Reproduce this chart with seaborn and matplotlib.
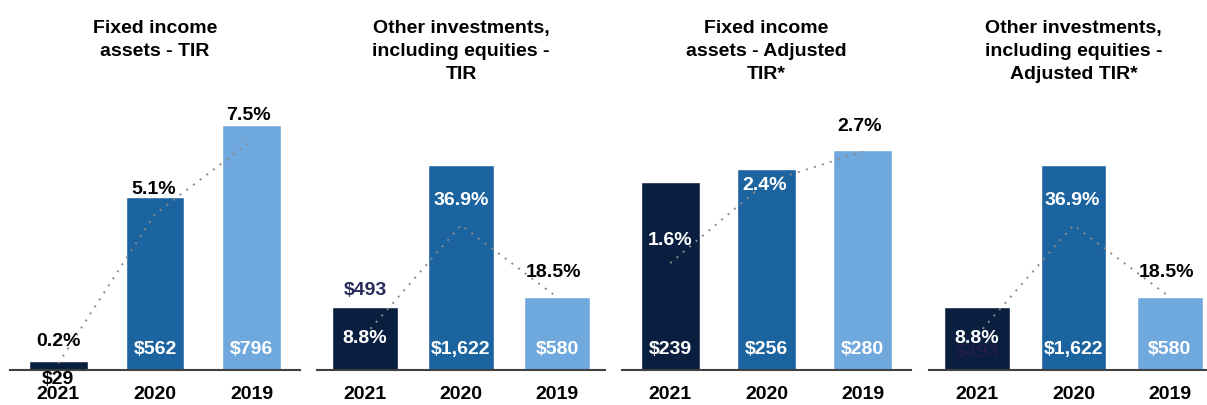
import pandas as pd
import seaborn as sns
import matplotlib.pyplot as plt

# data
years = ["2021", "2020", "2019"]

fixed_tir_amt = [29, 562, 796]
fixed_tir_pct = [0.2, 5.1, 7.5]
other_tir_amt = [493, 1622, 580]
other_tir_pct = [8.8, 36.9, 18.5]
fixed_adj_amt = [239, 256, 280]
fixed_adj_pct = [1.6, 2.4, 2.7]
other_adj_amt = [493, 1622, 580]
other_adj_pct = [8.8, 36.9, 18.5]

titles = ["Fixed income\nassets - TIR",
          "Other investments,\nincluding equities -\nTIR",
          "Fixed income\nassets - Adjusted\nTIR*",
          "Other investments,\nincluding equities -\nAdjusted TIR*"]

bar_colors = ["#0a1e40", "#1b64a0", "#6fa8dc"]
NAVY_TXT = "#2a2a5c"

sns.set_style("white")
plt.rcParams["font.family"] = ["Liberation Sans", "DejaVu Sans"]
plt.rcParams["font.weight"] = "bold"
plt.rcParams["text.color"] = "black"
plt.rcParams["xtick.color"] = "black"

fig = plt.figure(figsize=(12.07, 4.05), dpi=100)

W, H = 1207, 405
base_px, top_px = 369.5, 95
# (left px, right px, bar width, primary ylim top, secondary ylim)
layout = [
    (10, 300, 0.61, 892, (0, 9.0)),
    (317, 605, 0.68, 2182, (0, 70.2)),
    (622, 911, 0.61, 350, (0.55, 3.26)),
    (929, 1218, 0.68, 2182, (0, 70.2)),
]

panels = [
    (fixed_tir_amt, fixed_tir_pct),
    (other_tir_amt, other_tir_pct),
    (fixed_adj_amt, fixed_adj_pct),
    (other_adj_amt, other_adj_pct),
]

# label tweaks: (dx px, dy px, colour) per point
pct_style = [
    [(0, 22, "black"), (-1, 24, "black"), (-3, 25, "black")],
    [(0, -3, "white"), (0, 25, "white"), (-3, 25, "black")],
    [(0, 23, "white"), (-2, -3, "white"), (-3, 25, "black")],
    [(0, -3, "white"), (-1, 25, "white"), (-3, 25, "black")],
]
# $29 sits on the year label and the second $493 hides in its bar, as in the original
amt_style = [
    [("base", -10, "black"), ("base", 20, "white"), ("base", 20, "white")],
    [("top", 17, NAVY_TXT), ("base", 20, "white"), ("base", 20, "white")],
    [("base", 20, "white"), ("base", 20, "white"), ("base", 20, "white")],
    [("base", 17, "#1e1c48"), ("base", 20, "white"), ("base", 20, "white")],
]

for k, ((amt, pct), (lp, rp, bw, ytop, y2lim)) in enumerate(zip(panels, layout)):
    ax = fig.add_axes([lp / W, (H - base_px) / H, (rp - lp) / W, (base_px - top_px) / H])
    df = pd.DataFrame({"year": years, "amount": amt, "pct": pct})
    sns.barplot(data=df, x="year", y="amount", hue="year", palette=bar_colors,
                width=bw, legend=False, ax=ax, saturation=1)
    ax.set_ylim(0, ytop)

    ax2 = ax.twinx()
    sns.lineplot(x=[0, 1, 2], y=pct, ax=ax2, color="#8a8a8a", lw=1.4,
                 linestyle=(0, (1, 3.3)))
    ax2.set_ylim(*y2lim)
    ax.set_xlim(-0.5, 2.5)

    for a in (ax, ax2):
        a.set_yticks([])
        a.set_ylabel("")
        a.set_xlabel("")
        for s in a.spines.values():
            s.set_visible(False)
    ax.spines["bottom"].set_visible(True)
    ax.spines["bottom"].set_color("#404040")
    ax.spines["bottom"].set_linewidth(1.5)
    ax.tick_params(axis="x", length=0, pad=12, labelsize=14, labelcolor="black")
    for t in ax.get_xticklabels():
        t.set_fontweight("bold")

    for i in range(3):
        dx, dy, c = pct_style[k][i]
        ax2.annotate(f"{pct[i]}%", (i, pct[i]), xytext=(dx, dy),
                     textcoords="offset pixels", ha="center", va="center",
                     fontsize=14, fontweight="bold", color=c)
        where, dy, c = amt_style[k][i]
        yv = amt[i] if where == "top" else 0
        ax.annotate(f"${amt[i]:,}", (i, yv), xytext=(0, dy),
                    textcoords="offset pixels", ha="center", va="center",
                    fontsize=14, fontweight="bold", color=c)

    fig.text(((lp + rp) / 2) / W, 1 - 20 / H, titles[k], ha="center", va="top",
             fontsize=14, fontweight="bold", linespacing=1.45, color="black")

fig.savefig("out.png", dpi=100)
